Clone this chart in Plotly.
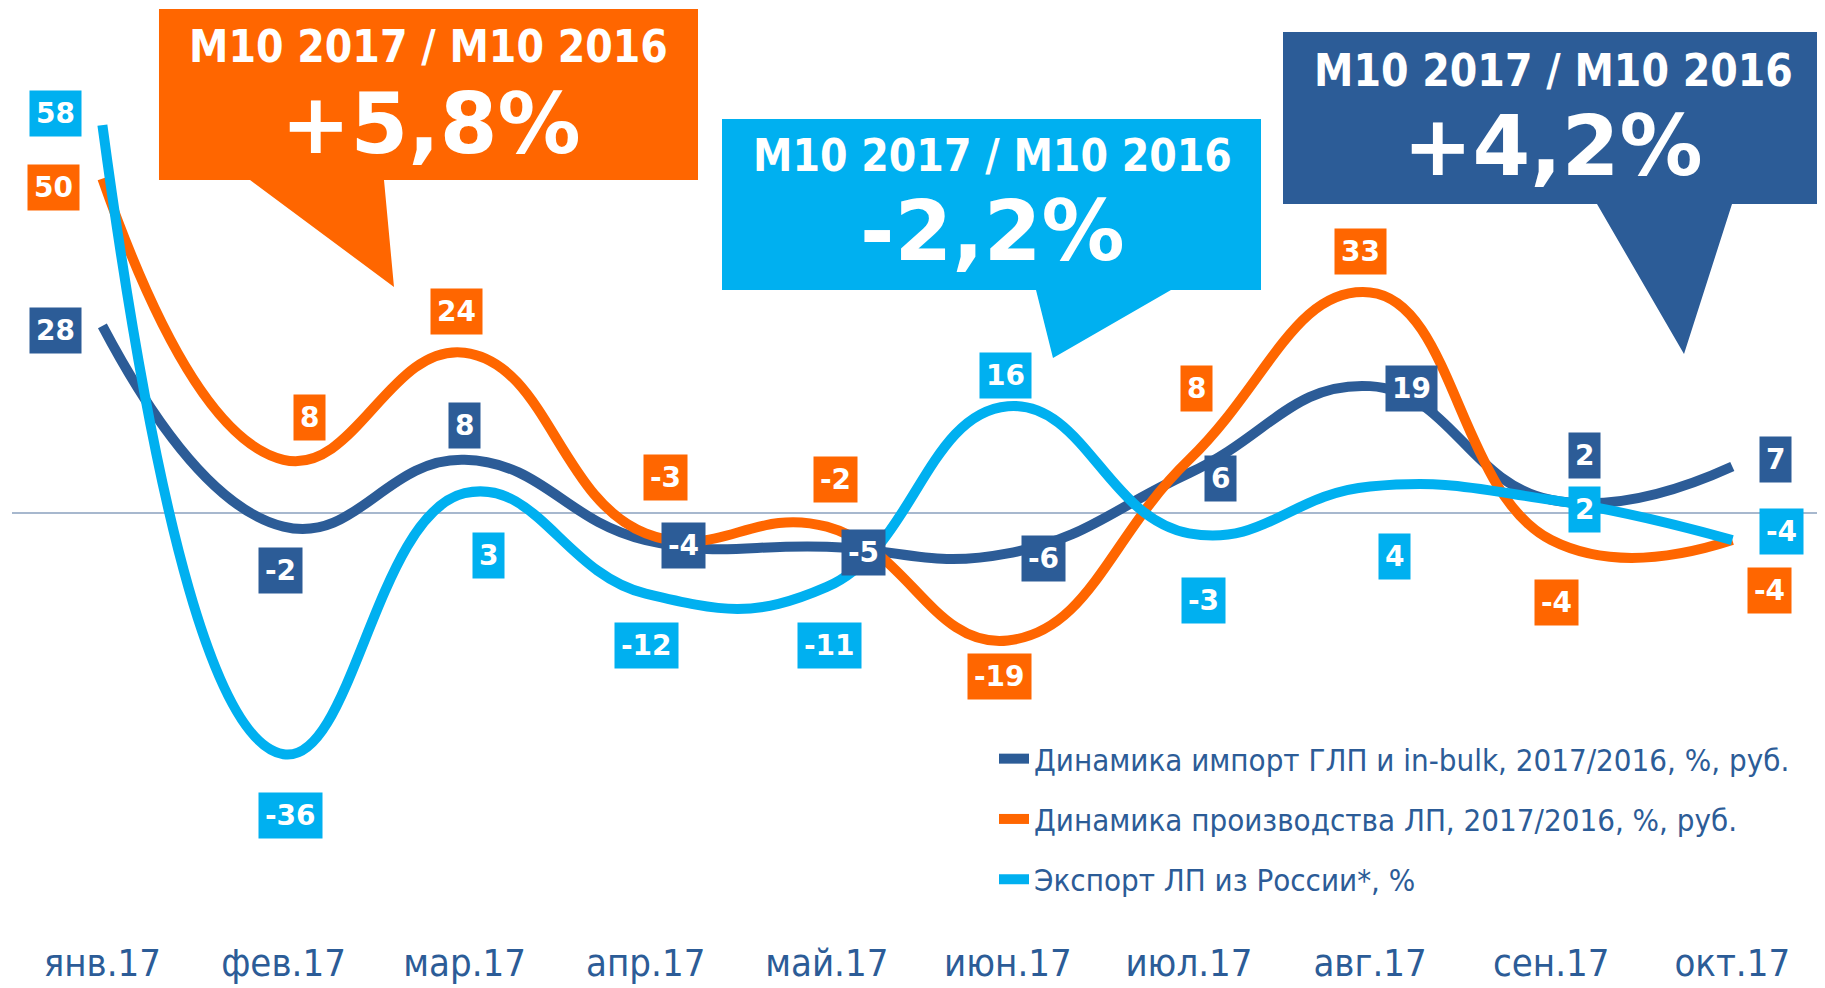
import plotly.graph_objects as go

# данные
months = ["янв.17", "фев.17", "мар.17", "апр.17", "май.17",
          "июн.17", "июл.17", "авг.17", "сен.17", "окт.17"]
import_vals = [28, -2, 8, -4, -5, -6, 6, 19, 2, 7]
prod_vals = [50, 8, 24, -3, -2, -19, 8, 33, -4, -4]
export_vals = [58, -36, 3, -12, -11, 16, -3, 4, 2, -4]

names = [
    "Динамика импорт ГЛП и in-bulk, 2017/2016, %, руб.",
    "Динамика производства ЛП, 2017/2016, %, руб.",
    "Экспорт ЛП из России*, %",
]
callouts = [("М10 2017 / М10 2016", "+5,8%"),
            ("М10 2017 / М10 2016", "-2,2%"),
            ("М10 2017 / М10 2016", "+4,2%")]

DARK = "#2C5C97"
ORANGE = "#FF6600"
LIGHT = "#00B0F0"
FONT = "DejaVu Sans Condensed, DejaVu Sans, sans-serif"
FONT_WIDE = "DejaVu Sans, sans-serif"

# смещения подписей (px)
import_shift = [(-47, -5), (-3, -44), (0, 34), (38, -5), (37, -6),
                (36, -5), (31, -5), (41, -2), (33, 44), (43, 7)]
prod_shift = [(-49, -9), (26, 42), (-8, 41), (20, 56), (9, 47),
              (-8, -36), (7, 71), (-10, 41), (5, -62), (37, -50)]
export_shift = [(-47, 12), (7, -61), (24, -62), (1, -52), (3, -59),
                (-2, 31), (14, -67), (24, -70), (33, -10), (49, 9)]

W_FIG, H_FIG = 1825, 988
OFF = 8  # отступ страницы
L, R, T, B = 4, 0, 0, 70
PW, PH = W_FIG - L - R, H_FIG - T - B


def px(x, y):
    return (x - OFF - L) / PW, 1 - (y - OFF - T) / PH


def path(points):
    s = ""
    for i, (x, y) in enumerate(points):
        xp, yp = px(x, y)
        s += ("M" if i == 0 else "L") + f"{xp:.5f},{yp:.5f} "
    return s + "Z"


x = list(range(len(months)))
fig = go.Figure()

series = [(import_vals, DARK, import_shift),
          (prod_vals, ORANGE, prod_shift),
          (export_vals, LIGHT, export_shift)]

annotations = []
for k, (vals, col, shifts) in enumerate(series):
    fig.add_trace(go.Scatter(
        x=x, y=vals, mode="lines", name=names[k],
        line=dict(color=col, width=10, shape="spline", smoothing=1.3),
        legendgroup=str(k), hoverinfo="y"
    ))
    for i, v in enumerate(vals):
        annotations.append(dict(
            x=i, y=v, xref="x", yref="y", text=f"<b>{v}</b>",
            showarrow=False, bgcolor=col, borderpad=6,
            font=dict(family=FONT_WIDE, size=28, color="white"),
            xshift=shifts[i][0], yshift=shifts[i][1]
        ))

# выноски
boxes = [
    (ORANGE, [(159, 9), (698, 9), (698, 180), (384, 180), (394, 287), (250, 180), (159, 180)],
     (428, 47), (431, 124)),
    (LIGHT, [(722, 119), (1261, 119), (1261, 290), (1171, 290), (1053, 358), (1036, 290), (722, 290)],
     (992, 155), (992, 231)),
    (DARK, [(1283, 32), (1822, 32), (1822, 204), (1732, 204), (1684, 354), (1597, 204), (1283, 204)],
     (1553, 70), (1553, 147)),
]
shapes = []
for (col, pts, p1, p2), (t1, t2) in zip(boxes, callouts):
    shapes.append(dict(type="path", path=path(pts), xref="paper", yref="paper",
                       fillcolor=col, line=dict(width=0), layer="above"))
    for (cx, cy), txt, sz, fam in [(p1, t1, 44, FONT), (p2, t2, 83, FONT_WIDE)]:
        xp, yp = px(cx, cy)
        annotations.append(dict(
            x=xp, y=yp, xref="paper", yref="paper", text=f"<b>{txt}</b>",
            showarrow=False, xanchor="center", yanchor="middle",
            font=dict(family=fam, size=sz, color="white")
        ))

x0 = -(102.4 - OFF - L) / 181.1
y_top = (513.3 - OFF - T) / 6.693
y_bot = -(T + PH - (513.3 - OFF)) / 6.693

lx, ly = px(994, 732)
fig.update_layout(
    width=W_FIG, height=H_FIG,
    margin=dict(l=L, r=R, t=T, b=B),
    paper_bgcolor="white", plot_bgcolor="white",
    font=dict(family=FONT, color=DARK),
    xaxis=dict(range=[x0, x0 + PW / 181.1], tickvals=x, ticktext=months,
               showgrid=False, zeroline=False, showline=False,
               tickfont=dict(size=38, color=DARK), ticklabelstandoff=11),
    yaxis=dict(range=[y_bot, y_top], showgrid=False, showticklabels=False,
               zeroline=True, zerolinecolor="#A7B8CE", zerolinewidth=2),
    showlegend=True,
    legend=dict(x=lx, y=ly, xanchor="left", yanchor="top",
                font=dict(size=31, color=DARK), tracegroupgap=17,
                bgcolor="rgba(0,0,0,0)"),
    shapes=shapes,
    annotations=annotations,
)

fig.write_html("out.html")
